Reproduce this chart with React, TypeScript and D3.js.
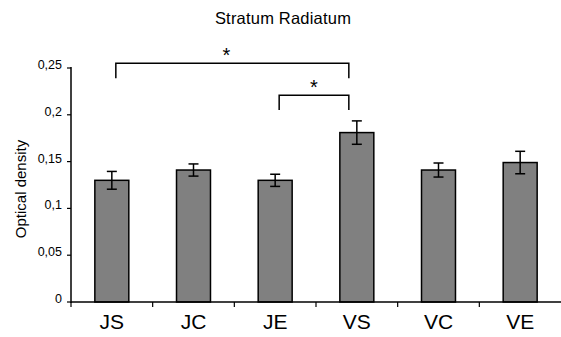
import React from "react";
import * as d3 from "d3";

const categories = ["JS", "JC", "JE", "VS", "VC", "VE"];
const means = [0.13, 0.141, 0.13, 0.181, 0.141, 0.149];
const errors = [0.0095, 0.0065, 0.0065, 0.0125, 0.0075, 0.012];
const yTicks = [0, 0.05, 0.1, 0.15, 0.2, 0.25];
const yTickLabels = ["0", "0,05", "0,1", "0,15", "0,2", "0,25"];
const brackets = [
  { from: "JS", to: "VS", level: 0.255, drop: 0.239, label: "*" },
  { from: "JE", to: "VS", level: 0.221, drop: 0.205, label: "*" },
];

const W = 561;
const H = 337;
const font = "Liberation Sans, Arial, sans-serif";

export default function App() {
  const x = d3
    .scaleBand<string>()
    .domain(categories)
    .range([71, 561])
    .paddingInner(0.584)
    .paddingOuter(0.292);
  const y = d3.scaleLinear().domain([0, 0.25]).range([302, 68]);
  const step = x.step();
  const bw = x.bandwidth();
  const cx = (c: string) => (x(c) as number) + bw / 2;
  const boundaries = d3.range(categories.length).map((i) => 71 + i * step);

  return (
    <svg
      width={W}
      height={H}
      style={{ position: "absolute", left: 0, top: 0, background: "#fff" }}
    >
      <text x={283} y={24} textAnchor="middle" fontFamily={font} fontSize={16.5} fill="#000" letterSpacing={0.2}>
        Stratum Radiatum
      </text>
      <text
        transform={`translate(26,${189}) rotate(-90)`}
        textAnchor="middle"
        fontFamily={font}
        fontSize={15}
        fill="#000"
      >
        Optical density
      </text>

      {categories.map((c, i) => (
        <g key={c}>
          <rect
            x={x(c)}
            y={y(means[i])}
            width={bw}
            height={y(0) - y(means[i])}
            fill="#808080"
            stroke="#000"
            strokeWidth={1.5}
          />
          <line x1={cx(c)} x2={cx(c)} y1={y(means[i] + errors[i])} y2={y(means[i] - errors[i])} stroke="#000" strokeWidth={1.5} />
          <line x1={cx(c) - 5} x2={cx(c) + 5} y1={y(means[i] + errors[i])} y2={y(means[i] + errors[i])} stroke="#000" strokeWidth={1.5} />
          <line x1={cx(c) - 5} x2={cx(c) + 5} y1={y(means[i] - errors[i])} y2={y(means[i] - errors[i])} stroke="#000" strokeWidth={1.5} />
          <text x={cx(c)} y={329} textAnchor="middle" fontFamily={font} fontSize={21} fill="#000">
            {c}
          </text>
        </g>
      ))}

      {/* y axis */}
      <line x1={71} x2={71} y1={y(0.25) - 1} y2={y(0) + 1} stroke="#000" strokeWidth={1.5} />
      {yTicks.map((t, i) => (
        <g key={t}>
          <line x1={67} x2={71} y1={y(t)} y2={y(t)} stroke="#000" strokeWidth={1.2} />
          <text
            x={62}
            y={y(t) + 1}
            textAnchor="end"
            fontFamily={font}
            fontSize={12.5}
            fill="#000"
          >
            {yTickLabels[i]}
          </text>
        </g>
      ))}

      {/* x axis */}
      <line x1={71} x2={561} y1={y(0)} y2={y(0)} stroke="#000" strokeWidth={1.5} />
      {boundaries.map((b) => (
        <line key={b} x1={b} x2={b} y1={y(0)} y2={y(0) + 5} stroke="#000" strokeWidth={1.2} />
      ))}

      {/* significance brackets */}
      {brackets.map((br, i) => {
        const x1 = cx(br.from) + 4;
        const x2 = cx(br.to) - 8;
        const yl = y(br.level);
        const yd = y(br.drop);
        return (
          <g key={i}>
            <path
              d={`M${x1},${yd}V${yl}H${x2}V${yd}`}
              fill="none"
              stroke="#000"
              strokeWidth={1.5}
            />
            <text
              x={(x1 + x2) / 2 - (i === 0 ? 6 : 0)}
              y={yl - 1}
              textAnchor="middle"
              fontFamily={font}
              fontSize={20}
              fill="#000"
            >
              {br.label}
            </text>
          </g>
        );
      })}
    </svg>
  );
}
